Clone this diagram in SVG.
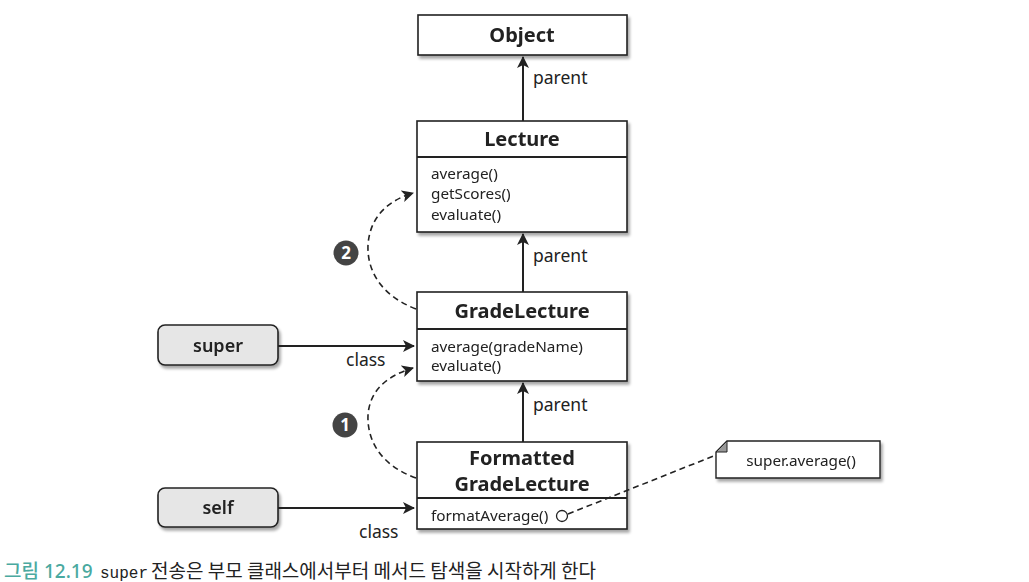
<svg xmlns="http://www.w3.org/2000/svg" width="1029" height="582" viewBox="0 0 1029 582">
<style>
.box{fill:#fff;stroke:#222;stroke-width:1.6}
.title{font-family:"Noto Sans","Liberation Sans",sans-serif;font-weight:bold;font-size:20px;fill:#222;text-anchor:middle}
.m{font-family:"Noto Sans","Liberation Sans",sans-serif;font-size:15.3px;fill:#222}
.lbl{font-family:"Noto Sans","Liberation Sans",sans-serif;font-size:17.5px;fill:#222}
.pl{font-family:"Noto Sans","Liberation Sans",sans-serif;font-size:18px;font-weight:600;fill:#222;text-anchor:middle}
.pill{fill:#e6e6e6;stroke:#222;stroke-width:1.6}
.ln{stroke:#222;stroke-width:2;fill:none}
.dash{stroke:#222;stroke-width:1.6;fill:none;stroke-dasharray:6 4}
.badge{fill:#444}
.bt{font-family:"Noto Sans","Liberation Sans",sans-serif;font-weight:bold;font-size:17px;fill:#fff;text-anchor:middle}
</style>
<defs>
<marker id="ah" viewBox="0 0 12 12" refX="11" refY="6" markerWidth="12" markerHeight="12" markerUnits="userSpaceOnUse" orient="auto">
<path d="M0,0 L12,6 L0,12 L3,6 Z" fill="#222"/>
</marker>
<filter id="sh" x="-10%" y="-10%" width="130%" height="140%">
<feGaussianBlur in="SourceAlpha" stdDeviation="1.5"/>
<feOffset dx="2" dy="3"/>
<feComponentTransfer><feFuncA type="linear" slope="0.35"/></feComponentTransfer>
<feMerge><feMergeNode/><feMergeNode in="SourceGraphic"/></feMerge>
</filter>
</defs>
<rect width="1029" height="582" fill="#fff"/>

<g id="badge2"><circle class="badge" cx="346" cy="253" r="12.5"/><text class="bt" x="346" y="259">2</text></g>
<g id="badge1"><circle class="badge" cx="345" cy="425" r="12.5"/><text class="bt" x="345" y="431">1</text></g>

<g id="Object" filter="url(#sh)">
<rect class="box" x="418" y="15" width="209" height="40"/>
<text class="title" x="522" y="42">Object</text>
</g>

<g id="Lecture" filter="url(#sh)">
<rect class="box" x="417" y="121" width="210" height="111"/>
<line class="ln" x1="417" y1="157" x2="627" y2="157" stroke-width="1.6"/>
<text class="title" x="522" y="146">Lecture</text>
<text class="m" x="431" y="179">average()</text>
<text class="m" x="431" y="199">getScores()</text>
<text class="m" x="431" y="220">evaluate()</text>
</g>

<g id="GradeLecture" filter="url(#sh)">
<rect class="box" x="417" y="292" width="210" height="89"/>
<line class="ln" x1="417" y1="329" x2="627" y2="329" stroke-width="1.6"/>
<text class="title" x="522" y="318">GradeLecture</text>
<text class="m" x="431" y="352">average(gradeName)</text>
<text class="m" x="431" y="371">evaluate()</text>
</g>

<g id="FormattedGradeLecture" filter="url(#sh)">
<rect class="box" x="417" y="442" width="210" height="87"/>
<line class="ln" x1="417" y1="498" x2="627" y2="498" stroke-width="1.6"/>
<text class="title" x="522" y="465">Formatted</text>
<text class="title" x="522" y="491">GradeLecture</text>
<text class="m" x="431" y="521">formatAverage()</text>
<circle cx="562" cy="516" r="5.5" fill="#fff" stroke="#222" stroke-width="1.3"/>
</g>

<g id="super" filter="url(#sh)">
<rect class="pill" x="158" y="325" width="120" height="40" rx="7"/>
<text class="pl" x="218" y="352">super</text>
</g>

<g id="self" filter="url(#sh)">
<rect class="pill" x="158" y="488" width="120" height="39" rx="7"/>
<text class="pl" x="218" y="514">self</text>
</g>

<g id="note" filter="url(#sh)">
<path d="M727,441 L880,441 L880,478 L716,478 L716,452 Z" fill="#fff" stroke="#222" stroke-width="1.4"/>
<path d="M716,452 L727,441 L727,452 Z" fill="#999" stroke="#222" stroke-width="1"/>
<text class="m" x="801" y="466" text-anchor="middle">super.average()</text>
</g>

<g id="connectors">
<line class="ln" x1="523" y1="121" x2="523" y2="57" marker-end="url(#ah)"/>
<line class="ln" x1="523" y1="292" x2="523" y2="234" marker-end="url(#ah)"/>
<line class="ln" x1="523" y1="442" x2="523" y2="383" marker-end="url(#ah)"/>
<text class="lbl" x="533" y="84">parent</text>
<text class="lbl" x="533" y="262">parent</text>
<text class="lbl" x="533" y="411">parent</text>
<line class="ln" x1="278" y1="346" x2="414" y2="346" marker-end="url(#ah)"/>
<text class="lbl" x="346" y="366">class</text>
<line class="ln" x1="278" y1="508" x2="414" y2="508" marker-end="url(#ah)"/>
<text class="lbl" x="359" y="538">class</text>
<path class="dash" d="M416,309 C380,295 367,270 368,245 C370,215 390,200 413,193" marker-end="url(#ah)"/>
<path class="dash" d="M416,478 C380,465 367,440 368,415 C370,388 390,375 413,368" marker-end="url(#ah)"/>
<path class="dash" d="M568,514 L716,455"/>
</g>

<g id="caption">
<text x="4" y="578" font-family="'Noto Sans','Noto Sans CJK KR',sans-serif" font-size="19" fill="#4aa9a0" font-weight="500">그림 12.19</text>
<text x="100" y="578" font-family="'Liberation Mono','DejaVu Sans Mono',monospace" font-size="16" fill="#222">super</text>
<text x="151" y="578" font-family="'Noto Sans CJK KR',sans-serif" font-size="19" fill="#222">전송은 부모 클래스에서부터 메서드 탐색을 시작하게 한다</text>
</g>
</svg>
